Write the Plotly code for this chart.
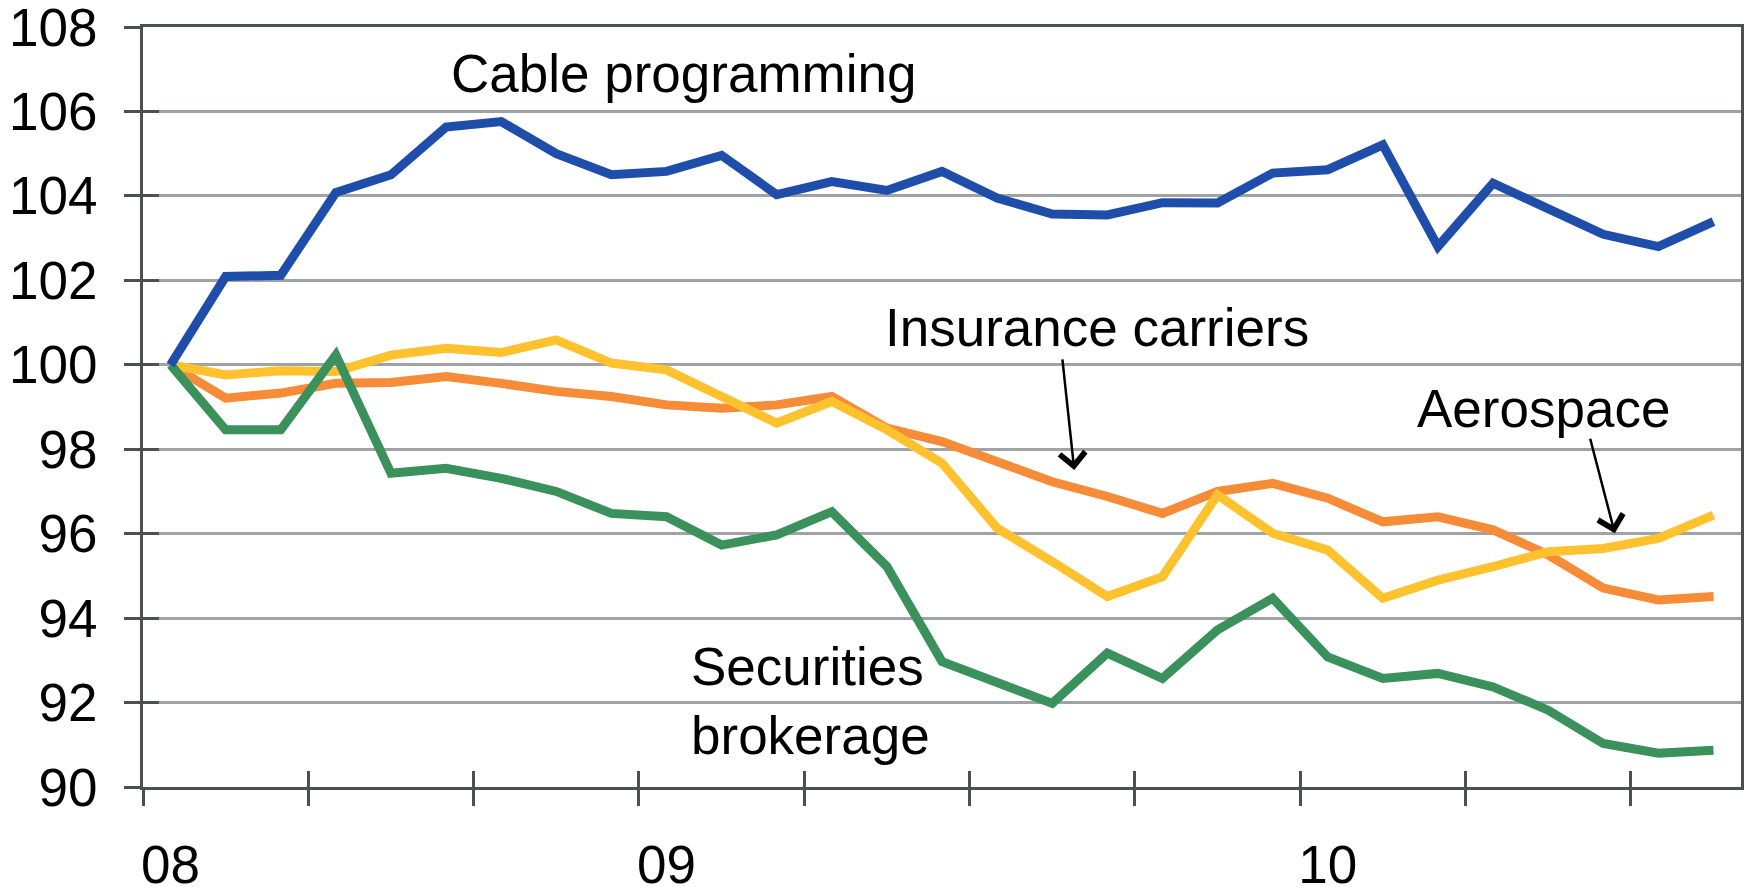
import plotly.graph_objects as go

# ---- data (index 0..28, monthly) ----
x_idx = list(range(29))
x_tick_labels = ["08", "09", "10"]
x_label_pos = [0, 9, 21]
x_tick_marks = [-0.5 + 3 * k for k in range(10)]
y_ticks = [90, 92, 94, 96, 98, 100, 102, 104, 106, 108]

cable = [100.0, 102.09, 102.12, 104.08, 104.5, 105.63, 105.76, 105.0, 104.5, 104.58,
         104.96, 104.03, 104.34, 104.13, 104.58, 103.95, 103.57, 103.55, 103.84, 103.83,
         104.54, 104.62, 105.21, 102.8, 104.3, 103.71, 103.09, 102.8, 103.39]
insurance = [100.0, 99.21, 99.33, 99.56, 99.58, 99.72, 99.56, 99.37, 99.25, 99.05,
             98.97, 99.05, 99.25, 98.5, 98.18, 97.71, 97.23, 96.88, 96.48, 97.0,
             97.19, 96.84, 96.28, 96.4, 96.09, 95.5, 94.71, 94.43, 94.51]
aerospace = [100.0, 99.76, 99.86, 99.84, 100.23, 100.39, 100.29, 100.59, 100.04, 99.88,
             99.25, 98.62, 99.13, 98.46, 97.67, 96.13, 95.34, 94.51, 94.98, 96.92,
             96.01, 95.61, 94.47, 94.9, 95.22, 95.57, 95.65, 95.89, 96.44]
securities = [100.0, 98.46, 98.46, 100.23, 97.43, 97.55, 97.31, 97.0, 96.48, 96.4,
              95.73, 95.97, 96.52, 95.22, 92.97, 92.45, 91.98, 93.17, 92.57, 93.72,
              94.47, 93.08, 92.57, 92.69, 92.37, 91.82, 91.03, 90.8, 90.87]

series = [
    ("Insurance carriers", insurance, "#F68B38"),
    ("Aerospace", aerospace, "#FEC22F"),
    ("Securities brokerage", securities, "#3A915C"),
    ("Cable programming", cable, "#1F4EAA"),
]

FONT = "Liberation Sans, Arial, sans-serif"
fig = go.Figure()
for name, vals, col in series:
    fig.add_trace(go.Scatter(x=x_idx, y=vals, mode="lines", name=name,
                             line=dict(color=col, width=9), hoverinfo="skip"))
# helper (empty) traces so the overlay axes carrying inner ticks / labels are drawn
fig.add_trace(go.Scatter(x=[None], y=[None], xaxis="x2", yaxis="y2", mode="lines",
                         hoverinfo="skip", showlegend=False))
fig.add_trace(go.Scatter(x=[None], y=[None], xaxis="x3", yaxis="y", mode="lines",
                         hoverinfo="skip", showlegend=False))

XR = [-0.5, 28.5]
YR = [90, 108]
axis_col = "#4D4F53"
fig.update_layout(
    width=1746, height=887,
    margin=dict(l=143, r=5, t=27, b=100),
    plot_bgcolor="white", paper_bgcolor="white",
    showlegend=False,
    font=dict(family=FONT, size=53, color="black"),
    xaxis=dict(range=XR, tickmode="array", tickvals=x_tick_marks, showticklabels=False,
               ticks="outside", ticklen=16, tickwidth=3, tickcolor=axis_col,
               showline=True, linecolor=axis_col, linewidth=3, mirror=True,
               showgrid=False, zeroline=False, automargin=False),
    xaxis2=dict(range=XR, overlaying="x", anchor="y2", tickmode="array", tickvals=x_tick_marks,
                showticklabels=False, ticks="inside", ticklen=16, tickwidth=3, tickcolor=axis_col,
                showline=False, showgrid=False, zeroline=False, automargin=False),
    xaxis3=dict(range=XR, overlaying="x", anchor="y", tickmode="array", tickvals=x_label_pos,
                ticktext=x_tick_labels, ticks="", showline=False, showgrid=False, zeroline=False,
                tickfont=dict(size=53, family=FONT, color="black"), ticklabelstandoff=42,
                ticklabeloverflow="allow", automargin=False),
    yaxis=dict(range=YR, tickmode="array", tickvals=y_ticks,
               ticks="outside", ticklen=16, tickwidth=3, tickcolor=axis_col,
               tickfont=dict(size=53, family=FONT, color="black"), ticklabelstandoff=16,
               ticklabeloverflow="allow",
               showline=True, linecolor=axis_col, linewidth=3, mirror=True,
               showgrid=True, gridcolor="#A0A3A6", gridwidth=2.5, zeroline=False,
               automargin=False),
    yaxis2=dict(range=YR, overlaying="y", anchor="x2", tickmode="array", tickvals=y_ticks,
                showticklabels=False, ticks="inside", ticklen=16, tickwidth=3, tickcolor=axis_col,
                showline=False, showgrid=False, zeroline=False, automargin=False),
)

ann_font = dict(family=FONT, size=53, color="black")
fig.add_annotation(x=5.06, y=106.91, text="Cable programming", showarrow=False,
                   xanchor="left", yanchor="middle", font=ann_font)
fig.add_annotation(x=12.93, y=100.89, text="Insurance carriers", showarrow=False,
                   xanchor="left", yanchor="middle", font=ann_font)
fig.add_annotation(x=22.59, y=98.97, text="Aerospace", showarrow=False,
                   xanchor="left", yanchor="middle", font=ann_font)
fig.add_annotation(x=9.40, y=92.03, text="Securities<br>brokerage", showarrow=False,
                   xanchor="left", yanchor="middle", align="left", font=ann_font)
# arrows
fig.add_annotation(x=16.40, y=97.51, ax=-12, ay=-112, text="", showarrow=True,
                   arrowhead=4, arrowsize=2, arrowwidth=2.5, arrowcolor="black", standoff=0)
fig.add_annotation(x=26.21, y=96.01, ax=-25, ay=-96, text="", showarrow=True,
                   arrowhead=4, arrowsize=2, arrowwidth=2.5, arrowcolor="black", standoff=0)

fig.write_html("out.html", config={"displayModeBar": False},
               post_script="document.body.style.margin='0';")
